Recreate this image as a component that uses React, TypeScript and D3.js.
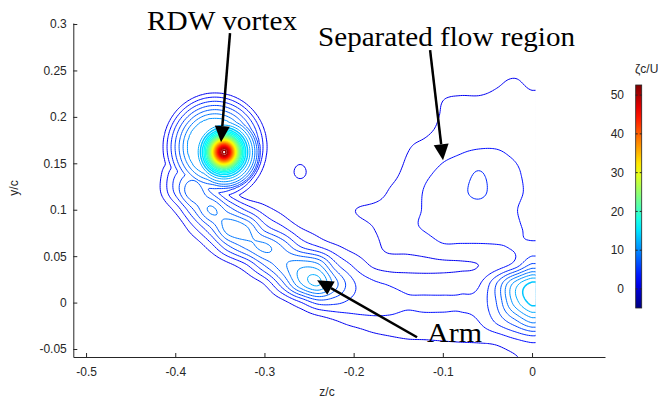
import React, { useEffect, useRef } from "react";
import * as d3 from "d3";

const W = 658;
const H = 405;

// axis ticks
const xTicks = [-0.5, -0.4, -0.3, -0.2, -0.1, 0];
const yTicks = [-0.05, 0, 0.05, 0.1, 0.15, 0.2, 0.25, 0.3];
const barTicks = [0, 10, 20, 30, 40, 50];

// colour range of the bar (zeta c / U)
const zetaMin = -4.9;
const zetaMax = 52.6;

// contour levels
const levels = d3.range(1.5, 53, 1.5);

// coarse grid of zeta c/U (rows top -> bottom)
const gridZ = [-0.44, -0.42, -0.4, -0.38, -0.36, -0.34, -0.32, -0.3, -0.28, -0.26, -0.24, -0.22,
  -0.2, -0.18, -0.16, -0.14, -0.12, -0.1, -0.08, -0.06, -0.04, -0.02, 0];
const gridY = [0.28, 0.26, 0.24, 0.22, 0.2, 0.18, 0.16, 0.14, 0.12, 0.1, 0.08, 0.06, 0.04, 0.02, 0, -0.02, -0.04, -0.06];
const zetaGrid = [
  [0, 0, 0, 0, 0, 0, 0, 0, 0, 0, 0, 0, 0, 0, 0, 0, 0, 0, 0, 0, 0, 0, 0],
  [0, 0, 0, 0, 0, 0, 0, 0, 0, 0, 0, 0, 0, 0, 0, 0, 0, 0, 0, 0, 0, 0, 0],
  [0, 0, 0, 0, 0, 0, 0, 0, 0, 0, 0, 0, 0, 0, 0, 0, 0, 0, 0, 0, 1.0, 1.6, 0.9],
  [0, 0, 0, 0, 0, 0, 0, 0, 0, 0, 0, 0, 0, 0, 0, 0, 0.3, 1.4, 1.7, 1.7, 2.0, 2.2, 1.9],
  [0, 0, 0, 0, 0, 0, 0, 0, 0, 0, 0, 0, 0, 0, 0, 0, 0.6, 1.7, 2.1, 2.3, 2.5, 2.6, 2.4],
  [0, 0, 0, 0, 0, 0, 0, 0, 0, 0, 0, 0, 0, 0, 0, 1.0, 1.4, 2.0, 2.5, 2.7, 2.8, 2.8, 2.6],
  [0, 0, 1.0, 1.4, 0.4, 0, 0, 0, 0, 0.5, 0, 0, 0, 0, 0.3, 1.5, 2.1, 2.7, 3.0, 3.2, 3.1, 2.9, 2.6],
  [0, 0.8, 4.2, 5.8, 2.9, 0, 0, 0, 0, 1.95, 0, 0, 0, 0, 0.9, 1.9, 2.7, 3.3, 3.7, 4.6, 3.7, 3.2, 2.7],
  [0, 1.0, 4.9, 8.9, 5.7, 2.0, 0, 0, 0, 0, 0, 0, 0, 0.3, 1.6, 2.2, 3.1, 3.7, 4.2, 4.8, 4.0, 3.3, 2.8],
  [0, 0, 1.9, 5.9, 9.3, 6.8, 4.2, 2.2, 1.0, 0, 0, 0, 1.4, 1.9, 2.2, 2.6, 3.1, 3.6, 3.9, 4.0, 3.8, 3.1, 2.7],
  [0, 0, 0, 2.6, 5.9, 10.0, 9.3, 5.4, 3.4, 1.6, 0.8, 0, 0.7, 1.4, 2.2, 2.7, 3.1, 3.5, 3.6, 3.7, 3.6, 3.2, 2.8],
  [0, 0, 0, 0.3, 2.3, 5.7, 8.0, 9.4, 7.5, 4.6, 3.1, 1.8, 1.0, 1.0, 1.9, 2.0, 2.3, 2.8, 2.8, 2.8, 2.9, 3.1, 3.4],
  [0, 0, 0, 0, 0, 1.0, 2.8, 6.0, 8.5, 10.1, 9.5, 5.0, 2.8, 1.4, 1.0, 1.0, 1.1, 1.2, 1.3, 1.5, 2.2, 3.6, 6.5],
  [0, 0, 0, 0, 0, 0, 0.3, 1.6, 5.4, 10.2, 12.3, 8.0, 4.7, 3.4, 2.9, 2.6, 2.4, 2.4, 2.5, 2.8, 6.0, 11.0, 14.0],
  [0, 0, 0, 0, 0, 0, 0, 0, 0.9, 2.8, 5.0, 4.8, 4.0, 3.6, 3.3, 3.1, 3.2, 3.2, 3.2, 3.6, 6.0, 11.0, 14.0],
  [0, 0, 0, 0, 0, 0, 0, 0, 0, 0, 0.5, 1.4, 2.2, 2.6, 2.7, 2.6, 2.6, 2.6, 2.6, 3.0, 4.8, 7.0, 9.5],
  [0, 0, 0, 0, 0, 0, 0, 0, 0, 0, 0, 0, 0, 0.8, 1.2, 1.45, 1.5, 1.6, 1.7, 1.8, 2.0, 2.8, 3.5],
  [0, 0, 0, 0, 0, 0, 0, 0, 0, 0, 0, 0, 0, 0, 0, 0, 0, 0, 0, 0, 0.8, 1.3, 2.0],
];

// RDW vortex core: radial profile about its centre
const coreCentre = [-0.3453, 0.1621];
const coreR = [0, 0.0045, 0.0078, 0.0112, 0.0146, 0.019, 0.0235, 0.028, 0.0314, 0.0347, 0.0392, 0.0448];
const coreZeta = [53, 49, 42, 34, 27, 20, 15.5, 12.5, 10.8, 9, 6, 0];

// outer rings of the vortex
const ringCentre = [-0.3554, 0.1675];
const ringR = [0, 0.0269, 0.0314, 0.0358, 0.0403, 0.0448, 0.0493, 0.0538, 0.0582, 0.0627, 0.0672];
const ringZeta = [11.5, 11, 10.5, 9, 7.5, 6, 4.5, 3, 1.5, 0.4, 0];

// annotations: text anchor and arrow tail -> tip, in z/c, y/c
const labels = [
  { text: "RDW vortex", z: -0.4316, y: 0.2935, len: 150, tail: [-0.3386, 0.2903], tip: [-0.3487, 0.1728] },
  { text: "Separated flow region", z: -0.2399, y: 0.2763, len: 257, tail: [-0.1143, 0.272], tip: [-0.0998, 0.1534] },
  { text: "Arm", z: -0.1177, y: -0.0427, len: 55, tail: [-0.1289, -0.0373], tip: [-0.241, 0.0241] },
];

const jet = (t: number) => {
  const c = (v: number) => Math.round(255 * Math.max(0, Math.min(1, v)));
  return `rgb(${c(1.5 - Math.abs(4 * t - 3))},${c(1.5 - Math.abs(4 * t - 2))},${c(1.5 - Math.abs(4 * t - 1))})`;
};

const catmull = (p0: number, p1: number, p2: number, p3: number, t: number) =>
  p1 + 0.5 * t * (p2 - p0 + t * (2 * p0 - 5 * p1 + 4 * p2 - p3 + t * (3 * (p1 - p2) + p3 - p0)));

function sampleGrid(z: number, y: number) {
  const nx = gridZ.length, ny = gridY.length;
  const cx = Math.max(0, Math.min(nx - 1, (z - gridZ[0]) / (gridZ[1] - gridZ[0])));
  const cy = Math.max(0, Math.min(ny - 1, (gridY[0] - y) / (gridY[0] - gridY[1])));
  const ix = Math.min(Math.floor(cx), nx - 2), iy = Math.min(Math.floor(cy), ny - 2);
  const tx = cx - ix, ty = cy - iy;
  const at = (j: number, i: number) => zetaGrid[Math.max(0, Math.min(ny - 1, j))][Math.max(0, Math.min(nx - 1, i))];
  const r = [-1, 0, 1, 2].map(dj =>
    catmull(at(iy + dj, ix - 1), at(iy + dj, ix), at(iy + dj, ix + 1), at(iy + dj, ix + 2), tx));
  return catmull(r[0], r[1], r[2], r[3], ty);
}

const App = () => {
  const ref = useRef<SVGSVGElement>(null);

  useEffect(() => {
    const svg = d3.select(ref.current);
    svg.selectAll("*").remove();

    const x = d3.scaleLinear().domain([-0.5143, 0.0818]).range([73.3, 605]);
    const y = d3.scaleLinear().domain([-0.0586, 0.3011]).range([357, 23]);
    const cNorm = d3.scaleLinear().domain([zetaMin, zetaMax]).range([0, 1]).clamp(true);

    const core = d3.scaleLinear().domain(coreR).range(coreZeta).clamp(true);
    const ring = d3.scaleLinear().domain(ringR).range(ringZeta).clamp(true);

    // fine field for contouring
    const step = 0.002;
    const fz0 = -0.44, fz1 = 0.004, fy0 = -0.06, fy1 = 0.28;
    const nx = Math.round((fz1 - fz0) / step) + 1;
    const ny = Math.round((fy1 - fy0) / step) + 1;
    const values = new Float64Array(nx * ny);
    for (let j = 0; j < ny; j++) {
      const yy = fy1 - j * step;
      for (let i = 0; i < nx; i++) {
        const zz = fz0 + i * step;
        const rc = Math.hypot(zz - coreCentre[0], yy - coreCentre[1]);
        const rr = Math.hypot(zz - ringCentre[0], yy - ringCentre[1]);
        values[j * nx + i] = Math.max(sampleGrid(zz, yy), core(rc), ring(rr));
      }
    }
    const contours = d3.contours().size([nx, ny]).thresholds(levels)(Array.from(values));
    const path = d3.geoPath(d3.geoTransform({
      point(u: number, v: number) {
        this.stream.point(x(fz0 + (u - 0.5) * step), y(fy1 - (v - 0.5) * step));
      },
    }));

    svg.append("defs").append("clipPath").attr("id", "field")
      .append("rect")
      .attr("x", x(fz0)).attr("y", y(fy1))
      .attr("width", x(fz1) - x(fz0)).attr("height", y(-0.0586) - y(fy1));

    svg.append("g").attr("clip-path", "url(#field)")
      .selectAll("path")
      .data(contours)
      .join("path")
      .attr("d", d => path(d as any))
      .attr("fill", "none")
      .attr("stroke", d => jet(cNorm(d.value)))
      .attr("stroke-width", d => (d.value > 13 ? 1.5 : 1));

    const font = "Arial, 'Liberation Sans', Helvetica, sans-serif";

    const xAxis = svg.append("g")
      .attr("transform", `translate(0,${y(-0.0586)})`)
      .call(d3.axisBottom(x).tickValues(xTicks).tickSize(-4).tickSizeOuter(0).tickPadding(10).tickFormat(d => String(d)));
    const yAxis = svg.append("g")
      .attr("transform", `translate(${x(-0.5143)},0)`)
      .call(d3.axisLeft(y).tickValues(yTicks).tickSize(-4).tickSizeOuter(0).tickPadding(6.5).tickFormat(d => String(d)));
    [xAxis, yAxis].forEach(g => {
      g.attr("font-family", font).attr("font-size", 12);
      g.selectAll("path, line").attr("stroke", "#262626");
      g.selectAll("text").attr("fill", "#262626");
    });

    svg.append("text").attr("x", 327).attr("y", 396).attr("text-anchor", "middle")
      .attr("font-family", font).attr("font-size", 12).attr("fill", "#262626").text("z/c");
    svg.append("text").attr("transform", "translate(18,188) rotate(-90)").attr("text-anchor", "middle")
      .attr("font-family", font).attr("font-size", 12).attr("fill", "#262626").text("y/c");

    // colour bar
    const bar = d3.scaleLinear().domain([zetaMin, zetaMax]).range([308, 85]);
    const grad = svg.select("defs").append("linearGradient").attr("id", "jet")
      .attr("x1", 0).attr("y1", 1).attr("x2", 0).attr("y2", 0);
    d3.range(0, 1.0001, 0.05).forEach(t => {
      grad.append("stop").attr("offset", t).attr("stop-color", jet(t));
    });
    const bx = 635.7, bw = 6;
    svg.append("rect").attr("x", bx).attr("y", bar(zetaMax)).attr("width", bw)
      .attr("height", bar(zetaMin) - bar(zetaMax))
      .attr("fill", "url(#jet)").attr("stroke", "#262626").attr("stroke-width", 0.8);
    const tk = svg.append("g").selectAll("g").data(barTicks).join("g");
    tk.append("line").attr("x1", bx).attr("x2", bx + 2).attr("y1", d => bar(d)).attr("y2", d => bar(d)).attr("stroke", "#262626");
    tk.append("line").attr("x1", bx + bw - 2).attr("x2", bx + bw).attr("y1", d => bar(d)).attr("y2", d => bar(d)).attr("stroke", "#262626");
    tk.append("text").attr("x", 624).attr("y", d => bar(d)).attr("dy", "0.35em").attr("text-anchor", "end")
      .attr("font-family", font).attr("font-size", 12).attr("fill", "#262626").text(d => String(d));
    svg.append("text").attr("x", 635).attr("y", 73).attr("font-family", font).attr("font-size", 12)
      .attr("fill", "#262626").text("ζc/U");

    // annotations
    const ann = svg.append("g");
    labels.forEach(l => {
      ann.append("text").attr("x", x(l.z)).attr("y", y(l.y))
        .attr("font-family", "'Times New Roman', 'Liberation Serif', serif").attr("font-size", 28)
        .attr("textLength", l.len).attr("lengthAdjust", "spacingAndGlyphs")
        .attr("fill", "#000").text(l.text);
      const [x0, y0] = [x(l.tail[0]), y(l.tail[1])];
      const [x1, y1] = [x(l.tip[0]), y(l.tip[1])];
      const len = Math.hypot(x1 - x0, y1 - y0);
      const ux = (x1 - x0) / len, uy = (y1 - y0) / len;
      const hl = 16, hw = 7.5;
      const bxp = x1 - ux * hl, byp = y1 - uy * hl;
      ann.append("line").attr("x1", x0).attr("y1", y0).attr("x2", bxp).attr("y2", byp)
        .attr("stroke", "#000").attr("stroke-width", 2.5);
      ann.append("path")
        .attr("d", `M${x1},${y1}L${bxp - uy * hw},${byp + ux * hw}L${bxp + uy * hw},${byp - ux * hw}Z`)
        .attr("fill", "#000");
    });
  }, []);

  return (
    <svg ref={ref} width={W} height={H} style={{ position: "absolute", left: 0, top: 0, background: "#fff" }} />
  );
};

export default App;
